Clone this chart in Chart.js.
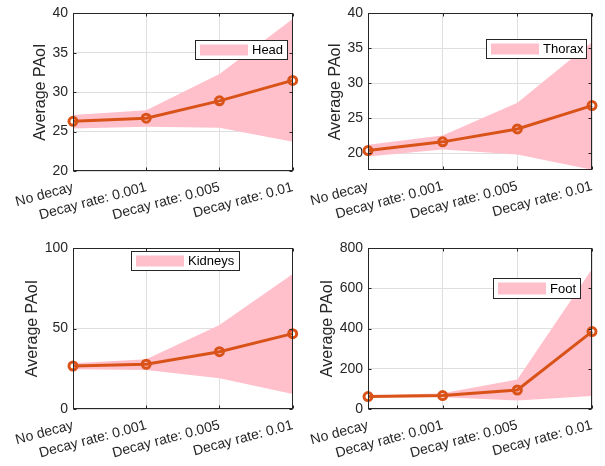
<!DOCTYPE html>
<html>
<head>
<meta charset="utf-8">
<script src="https://cdn.jsdelivr.net/npm/chart.js@4.4.1/dist/chart.umd.min.js"></script>
<style>
  html, body { margin: 0; padding: 0; background: #ffffff; }
  body { width: 605px; height: 466px; position: relative; overflow: hidden; }
  canvas { position: absolute; }
</style>
</head>
<body>
<canvas id="cHead" width="305" height="233" style="left:0px;top:0px;"></canvas>
<canvas id="cThorax" width="305" height="233" style="left:300px;top:0px;"></canvas>
<canvas id="cKidneys" width="305" height="233" style="left:0px;top:233px;"></canvas>
<canvas id="cFoot" width="305" height="233" style="left:300px;top:233px;"></canvas>
<script>
// ---------------- data ----------------
const categories = ['No decay', 'Decay rate: 0.001', 'Decay rate: 0.005', 'Decay rate: 0.01'];

const headMean  = [26.3, 26.7, 28.9, 31.5];
const headUpper = [27.1, 27.7, 32.3, 39.3];
const headLower = [25.4, 25.6, 25.5, 23.7];
const headTicks = [20, 25, 30, 35, 40];

const thoraxMean  = [20.35, 21.6, 23.45, 26.8];
const thoraxUpper = [21.2, 22.5, 27.2, 35.9];
const thoraxLower = [19.5, 20.5, 19.8, 17.6];
const thoraxTicks = [20, 25, 30, 35, 40];

const kidneysMean  = [26.7, 27.8, 35.6, 46.8];
const kidneysUpper = [28.4, 30.9, 52.2, 83.9];
const kidneysLower = [24.7, 24.2, 19.1, 9.3];
const kidneysTicks = [0, 50, 100];

const footMean  = [61.6, 66.6, 94.4, 384.6];
const footUpper = [66, 78, 146, 696];
const footLower = [57, 58, 42, 65];
const footTicks = [0, 200, 400, 600, 800];

// ---------------- styling ----------------
const FONT = "'Liberation Sans', Arial, Helvetica, sans-serif";
const AXIS = '#262626';
const GRID = '#dfdfdf';
const LINE = '#D95319';
const BAND = 'rgb(255,192,204)';

const matlabBox = {
  id: 'matlabBox',
  afterDraw(chart, args, opts) {
    const ctx = chart.ctx;
    const a = chart.chartArea;
    const l = Math.round(a.left) + 0.5, r = Math.round(a.right) - 0.5;
    const t = Math.round(a.top) + 0.5, b = Math.round(a.bottom) - 0.5;
    ctx.save();
    ctx.strokeStyle = AXIS;
    ctx.lineWidth = 1;
    ctx.beginPath();
    const ys = chart.scales.y, xs = chart.scales.x;
    const tl = 3;
    ys.ticks.forEach(tk => {
      const py = Math.round(ys.getPixelForValue(tk.value)) + 0.5;
      ctx.moveTo(l, py); ctx.lineTo(l + tl, py);
      ctx.moveTo(r, py); ctx.lineTo(r - tl, py);
    });
    xs.ticks.forEach((tk, i) => {
      const px = Math.round(xs.getPixelForTick(i)) + 0.5;
      ctx.moveTo(px, b); ctx.lineTo(px, b - tl);
      ctx.moveTo(px, t); ctx.lineTo(px, t + tl);
    });
    ctx.stroke();
    ctx.strokeRect(l, t, r - l, b - t);

    // legend
    const lg = opts.legend;
    if (lg) {
      const bx = Math.round(lg.x) + 0.5, by = Math.round(lg.y) + 0.5;
      ctx.fillStyle = '#ffffff';
      ctx.fillRect(bx, by, lg.w, lg.h);
      ctx.strokeStyle = AXIS;
      ctx.strokeRect(bx, by, lg.w, lg.h);
      ctx.fillStyle = BAND;
      ctx.fillRect(bx + 4.5, by + 4, 48, lg.h - 8);
      ctx.fillStyle = '#000000';
      ctx.font = '13px ' + FONT;
      ctx.textAlign = 'left';
      ctx.textBaseline = 'middle';
      ctx.fillText(lg.label, bx + 56.5, by + lg.h / 2 + 0.5);
    }
    ctx.restore();
  }
};

function makeChart(id, mean, upper, lower, ticks, yMin, yMax, lay, legend) {
  return new Chart(document.getElementById(id), {
    type: 'line',
    data: {
      labels: categories,
      datasets: [
        {
          label: 'mean',
          data: mean,
          borderColor: LINE,
          borderWidth: 3,
          pointRadius: 4,
          pointBorderWidth: 3,
          pointBorderColor: LINE,
          pointBackgroundColor: 'rgba(0,0,0,0)',
          fill: false,
          tension: 0
        },
        {
          label: legend.label,
          data: upper,
          borderWidth: 0,
          borderColor: 'rgba(0,0,0,0)',
          pointRadius: 0,
          backgroundColor: BAND,
          fill: '+1',
          tension: 0
        },
        {
          label: 'lower',
          data: lower,
          borderWidth: 0,
          borderColor: 'rgba(0,0,0,0)',
          pointRadius: 0,
          fill: false,
          tension: 0
        }
      ]
    },
    options: {
      responsive: false,
      animation: false,
      devicePixelRatio: 1,
      layout: { padding: { left: 0, right: lay.padR, top: lay.top, bottom: 0 } },
      plugins: {
        legend: { display: false },
        tooltip: { enabled: false },
        matlabBox: { legend: legend }
      },
      scales: {
        x: {
          type: 'category',
          offset: false,
          grid: { color: GRID, lineWidth: 1, drawTicks: false },
          border: { display: false },
          ticks: {
            autoSkip: false,
            minRotation: 15,
            maxRotation: 15,
            padding: 8,
            color: AXIS,
            font: { family: FONT, size: 14 }
          },
          afterFit(s) { s.height = lay.xH; }
        },
        y: {
          type: 'linear',
          min: yMin,
          max: yMax,
          grid: { color: GRID, lineWidth: 1, drawTicks: false },
          border: { display: false },
          ticks: {
            padding: 5,
            color: AXIS,
            font: { family: FONT, size: 14 }
          },
          afterBuildTicks(s) { s.ticks = ticks.map(v => ({ value: v })); },
          title: {
            display: true,
            text: 'Average PAoI',
            color: AXIS,
            font: { family: FONT, size: 16 },
            padding: { top: lay.titlePad, bottom: 0 }
          },
          afterFit(s) { s.width = lay.yW; }
        }
      }
    },
    plugins: [matlabBox]
  });
}

makeChart('cHead', headMean, headUpper, headLower, headTicks, 20, 40,
  { padR: 8, top: 8, xH: 62, yW: 73, titlePad: 31 },
  { label: 'Head', x: 194.5, y: 39.5, w: 92, h: 19 });

makeChart('cThorax', thoraxMean, thoraxUpper, thoraxLower, thoraxTicks, 17.57, 40,
  { padR: 13, top: 8, xH: 63, yW: 68, titlePad: 26 },
  { label: 'Thorax', x: 185.5, y: 39, w: 100, h: 19 });

makeChart('cKidneys', kidneysMean, kidneysUpper, kidneysLower, kidneysTicks, 0, 100,
  { padR: 8, top: 15, xH: 57, yW: 73, titlePad: 23 },
  { label: 'Kidneys', x: 131, y: 18, w: 108, h: 19 });

makeChart('cFoot', footMean, footUpper, footLower, footTicks, 0, 800,
  { padR: 13, top: 15, xH: 57, yW: 68, titlePad: 18 },
  { label: 'Foot', x: 192.5, y: 44.5, w: 87, h: 20 });
</script>
</body>
</html>
